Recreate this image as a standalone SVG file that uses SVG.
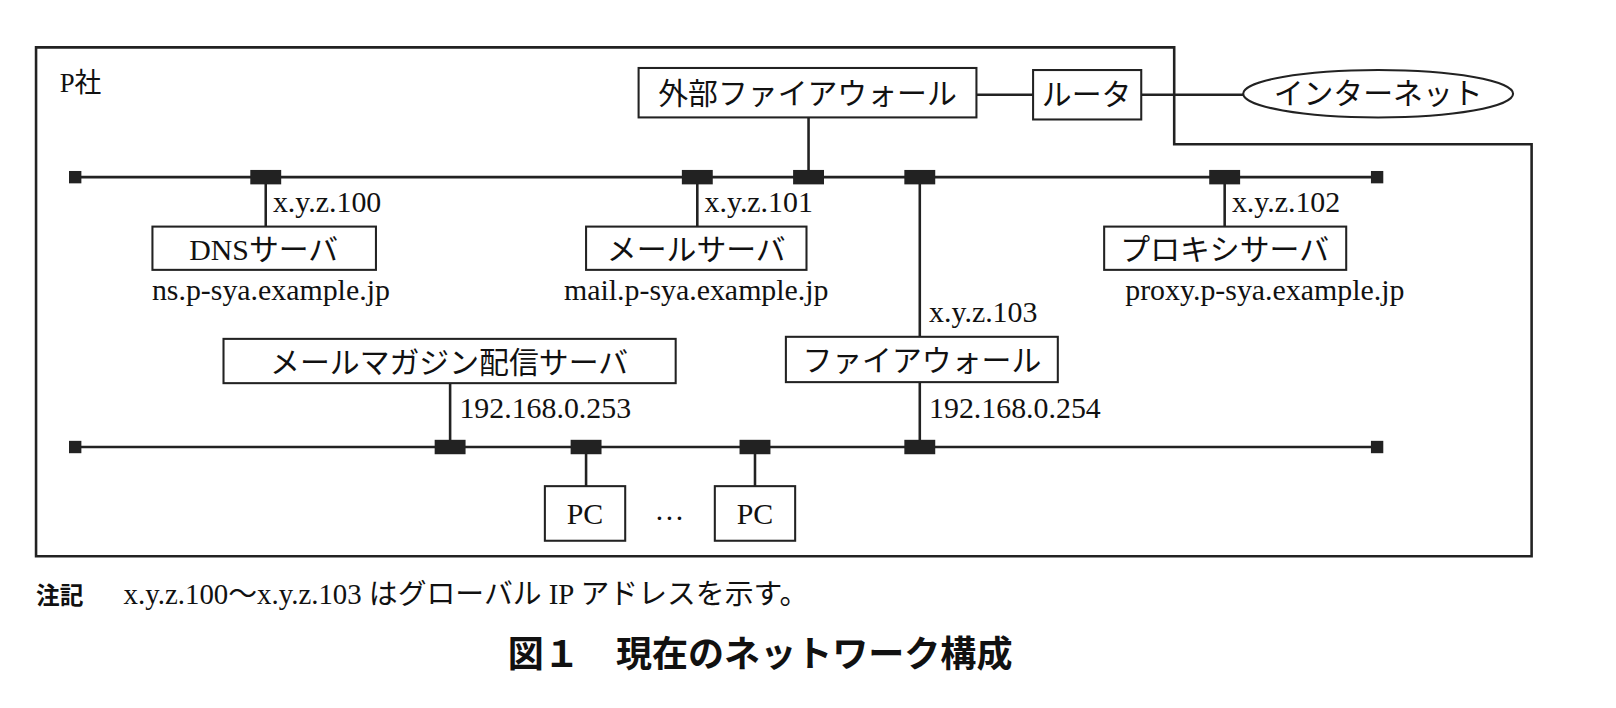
<svg xmlns="http://www.w3.org/2000/svg" width="1616" height="708" viewBox="0 0 1616 708">
<style>
.b{fill:#fff;stroke:#222;stroke-width:2}
.l{stroke:#222;stroke-width:2.5;fill:none}
.t{font-family:"Liberation Serif","Noto Sans CJK JP",serif;font-size:29px;fill:#111}
.a{font-size:29px}
.c{text-anchor:middle}
.k{fill:#222}
</style>
<rect width="1616" height="708" fill="#fff"/>
<g transform="scale(1.03)">
<path class="l" d="M35 46H1140V140H1487V540H35Z" stroke-width="2"/>
<text class="t" x="58" y="89" style="font-size:26px">P社</text>
<g id="connectors">
<line class="l" x1="73" y1="172" x2="1337" y2="172"/>
<line class="l" x1="73" y1="434" x2="1337" y2="434"/>
<line class="l" x1="948" y1="92" x2="1003" y2="92"/>
<line class="l" x1="1108" y1="92" x2="1207" y2="92"/>
<line class="l" x1="785" y1="114" x2="785" y2="172"/>
<line class="l" x1="258" y1="172" x2="258" y2="220"/>
<line class="l" x1="677" y1="172" x2="677" y2="220"/>
<line class="l" x1="1189" y1="172" x2="1189" y2="220"/>
<line class="l" x1="893" y1="172" x2="893" y2="327"/>
<line class="l" x1="893" y1="371" x2="893" y2="434"/>
<line class="l" x1="437" y1="372" x2="437" y2="434"/>
<line class="l" x1="569" y1="434" x2="569" y2="472"/>
<line class="l" x1="733" y1="434" x2="733" y2="472"/>
<g class="k">
<rect x="67" y="166" width="12" height="12"/><rect x="1331" y="166" width="12" height="12"/>
<rect x="67" y="428" width="12" height="12"/><rect x="1331" y="428" width="12" height="12"/>
<rect x="243" y="165" width="30" height="14"/><rect x="662" y="165" width="30" height="14"/>
<rect x="770" y="165" width="30" height="14"/><rect x="878" y="165" width="30" height="14"/>
<rect x="1174" y="165" width="30" height="14"/>
<rect x="422" y="427" width="30" height="14"/><rect x="554" y="427" width="30" height="14"/>
<rect x="718" y="427" width="30" height="14"/><rect x="878" y="427" width="30" height="14"/>
</g>
</g>
<g id="extfw"><rect class="b" x="620" y="66" width="328" height="48"/><text class="t c" x="784" y="101">外部ファイアウォール</text></g>
<g id="router"><rect class="b" x="1003" y="68" width="105" height="48"/><text class="t c" x="1055" y="102">ルータ</text></g>
<g id="internet"><ellipse class="b" cx="1338" cy="91" rx="131" ry="23"/><text class="t c" x="1338" y="101">インターネット</text></g>
<g id="dns"><rect class="b" x="148" y="220" width="217" height="42"/><text class="t c" x="256" y="252">DNSサーバ</text>
<text class="t a" x="265" y="206">x.y.z.100</text><text class="t a c" x="263" y="291">ns.p-sya.example.jp</text></g>
<g id="mail"><rect class="b" x="569" y="220" width="214" height="42"/><text class="t c" x="676" y="252">メールサーバ</text>
<text class="t a" x="684" y="206">x.y.z.101</text><text class="t a c" x="676" y="291">mail.p-sya.example.jp</text></g>
<g id="proxy"><rect class="b" x="1072" y="220" width="235" height="42"/><text class="t c" x="1189" y="252">プロキシサーバ</text>
<text class="t a" x="1196" y="206">x.y.z.102</text><text class="t a c" x="1228" y="291">proxy.p-sya.example.jp</text></g>
<g id="fw"><rect class="b" x="763" y="327" width="264" height="44"/><text class="t c" x="895" y="360">ファイアウォール</text>
<text class="t a" x="902" y="313">x.y.z.103</text><text class="t a" x="902" y="406">192.168.0.254</text></g>
<g id="magazine"><rect class="b" x="217" y="329" width="439" height="43"/><text class="t c" x="436" y="362">メールマガジン配信サーバ</text>
<text class="t a" x="446" y="406">192.168.0.253</text></g>
<g id="pc1"><rect class="b" x="529" y="472" width="78" height="53"/><text class="t a c" x="568" y="509">PC</text></g>
<g id="pc2"><rect class="b" x="694" y="472" width="78" height="53"/><text class="t a c" x="733" y="509">PC</text></g>
<text class="t c" x="650" y="505">…</text>
<text x="35" y="586" style="font-family:'Noto Sans CJK JP',sans-serif;font-size:23px;font-weight:bold;fill:#111">注記</text>
<text class="t" x="120" y="586" style="font-size:28px">x.y.z.100〜x.y.z.103 はグローバル IP アドレスを示す。</text>
<text x="738" y="648" text-anchor="middle" style="font-family:'Noto Sans CJK JP',sans-serif;font-size:35px;font-weight:bold;fill:#111">図１　現在のネットワーク構成</text>
</g>
</svg>
